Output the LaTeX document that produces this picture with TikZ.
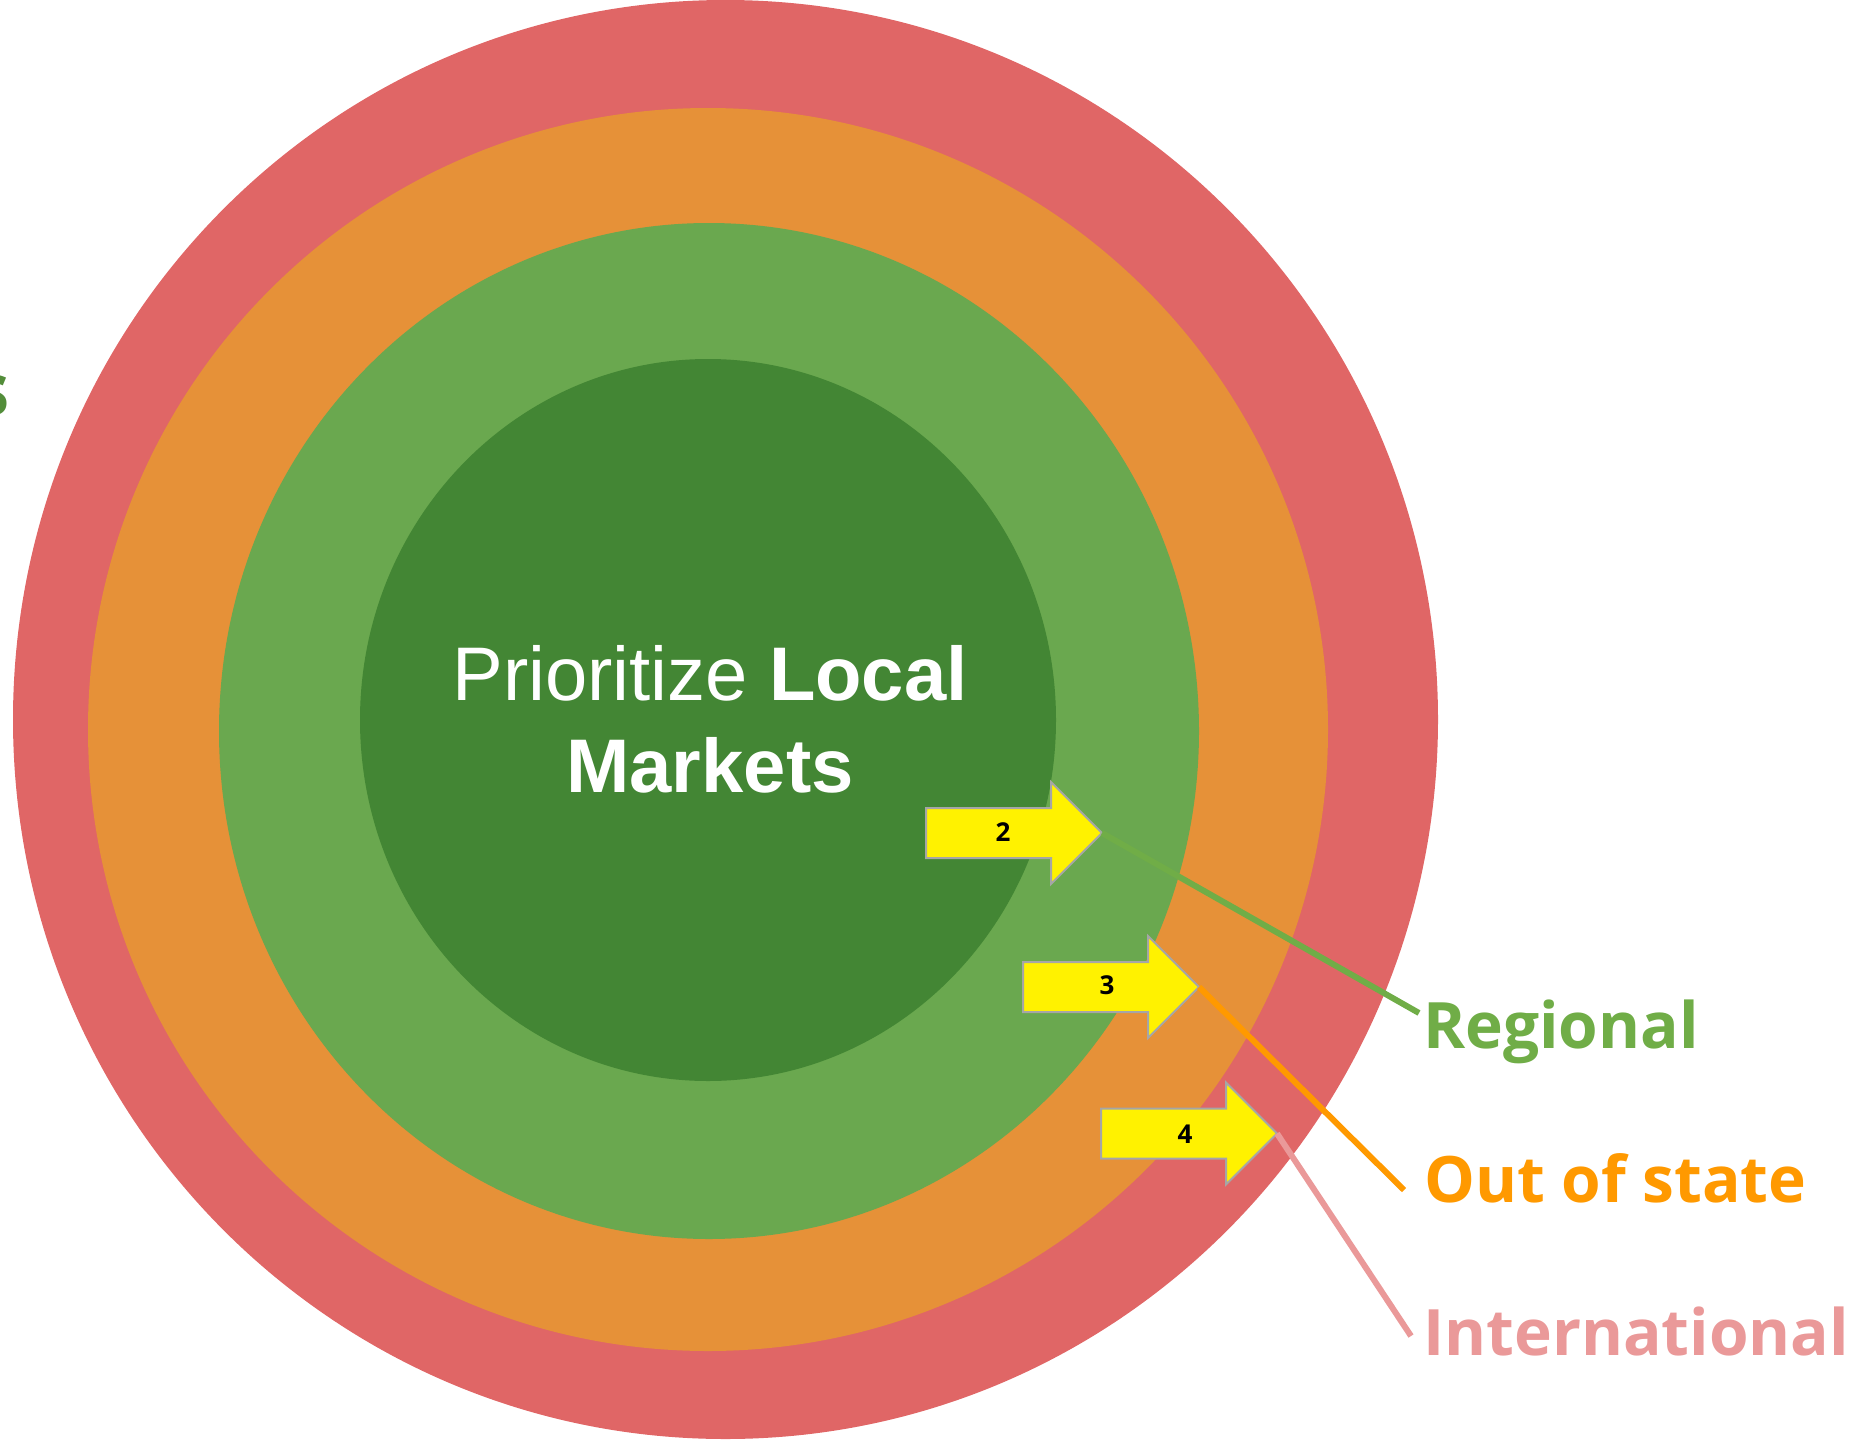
\documentclass[tikz,border=0pt]{standalone}
\usepackage{fontspec}
\setmainfont{Open Sans}
\newfontfamily\centerfont{Liberation Sans}
\definecolor{cred}{HTML}{E06666}
\definecolor{corange}{HTML}{E69138}
\definecolor{clgreen}{HTML}{6AA84F}
\definecolor{cdgreen}{HTML}{438634}
\definecolor{lblgreen}{HTML}{70AD47}
\definecolor{lblorange}{HTML}{FF9900}
\definecolor{lblpink}{HTML}{EA9999}
\definecolor{sgreen}{HTML}{538D3A}
\definecolor{arrowedge}{HTML}{A6A6A6}
\begin{document}
\begin{tikzpicture}[x=1pt,y=-1pt,
  arrowbox/.style={fill=yellow, draw=arrowedge, line width=2pt, line join=miter},
  numtext/.style={font=\fontsize{26}{30}\selectfont\bfseries, text=black, inner sep=0},
  leader/.style={line width=6pt},
  lbl/.style={font=\fontsize{64}{76}\selectfont\bfseries, inner sep=0, anchor=base west},
  ctext/.style={font=\centerfont\fontsize{76}{92}\selectfont, text=white, inner sep=0, anchor=base},
  pics/yarrow/.style={code={
    \draw[arrowbox] (0,-25) -- (125,-25) -- (125,-51) -- (176,0) -- (125,51) -- (125,25) -- (0,25) -- cycle;
    \coordinate (-tip) at (176,0);
  }}]
\useasboundingbox (0,0) rectangle (1866,1440);
\clip (0,0) rectangle (1866,1440);
% rings
\fill[cred] (725.5,719.5) ellipse [x radius=712.5, y radius=719.5];
\fill[corange] (708,729.5) ellipse [x radius=620, y radius=621.5];
\fill[clgreen] (709,731) ellipse [x radius=490, y radius=508];
\fill[cdgreen] (708,720) ellipse [x radius=348, y radius=361];
% fragment at left edge
\node[font=\fontsize{73}{80}\selectfont\bfseries, text=sgreen, inner sep=0, anchor=base east] (frag) at (10,415) {s};
% centre text
\node[ctext] (c1) at (710,700) {Prioritize \textbf{Local}};
\node[ctext] (c2) at (710,792) {\textbf{Markets}};
% arrows
\pic (a2) at (926,833) {yarrow};
\pic (a3) at (1023,987) {yarrow};
\pic (a4) at (1101,1133.5) {yarrow};
\node[numtext] (n2) at (1003,832) {2};
\node[numtext] (n3) at (1107,985) {3};
\node[numtext] (n4) at (1185,1134) {4};
% leader ends
\coordinate (e2) at (1419,1013);
\coordinate (e3) at (1404,1190);
\coordinate (e4) at (1411,1336);
\draw[leader, lblgreen] (a2-tip) -- (e2);
\draw[leader, lblorange] (a3-tip) -- (e3);
\draw[leader, lblpink] (a4-tip) -- (e4);
% labels
\node[lbl, text=lblgreen] (l2) at (1423,1048) {Regional};
\node[lbl, text=lblorange] (l3) at (1424,1202) {Out of state};
\node[lbl, text=lblpink] (l4) at (1423,1355) {International};
\end{tikzpicture}
\end{document}
